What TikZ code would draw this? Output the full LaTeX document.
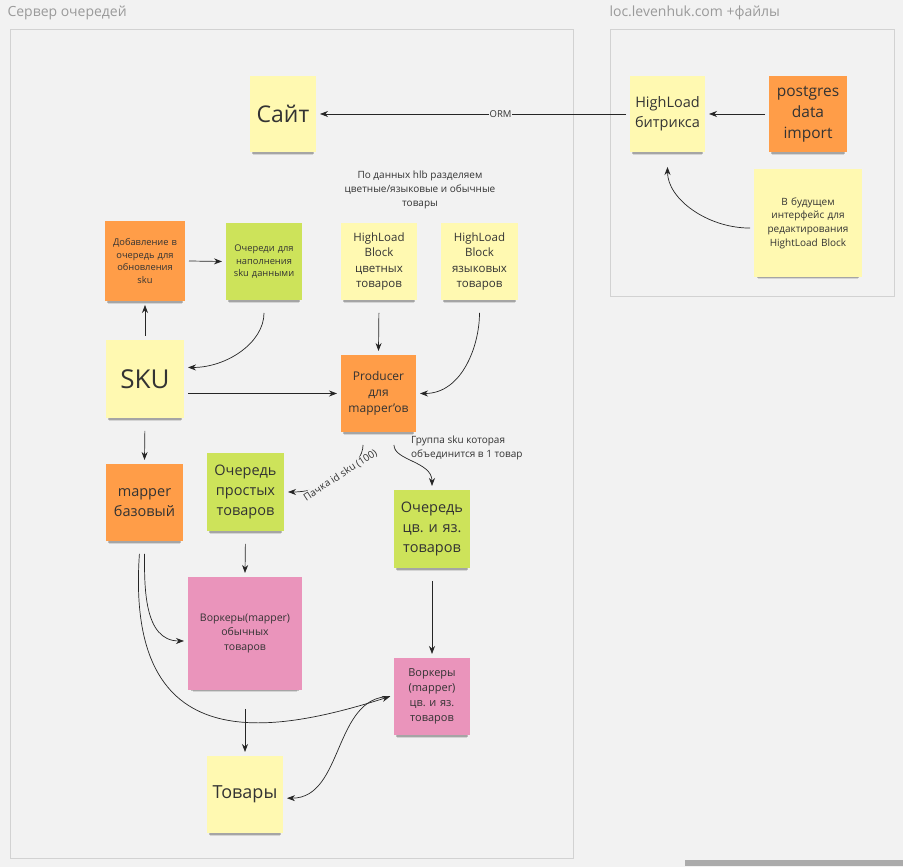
\documentclass[tikz,border=0pt]{standalone}
\usepackage{fontspec}
\setmainfont{Open Sans}
\usepackage{tikz}
\usetikzlibrary{arrows.meta,positioning,shadows,calc}
\definecolor{cbg}{HTML}{F2F2F2}
\definecolor{cframe}{HTML}{D2D2D2}
\definecolor{ctitle}{HTML}{9A9A9A}
\definecolor{cyel}{HTML}{FFF9B1}
\definecolor{corg}{HTML}{FF9D48}
\definecolor{cgrn}{HTML}{CDE35A}
\definecolor{cpnk}{HTML}{EA94BB}
\definecolor{ctext}{HTML}{333333}
\definecolor{cbar}{HTML}{ABABAB}
\newcommand{\fsz}[1]{\fontsize{#1}{\dimexpr #1pt*136/100\relax}\selectfont}
\frenchspacing
\tikzset{
  note/.style={rectangle, inner sep=2pt, outer sep=4pt, align=center, text=ctext,
    drop shadow={shadow xshift=0pt, shadow yshift=-7pt, shadow scale=0.92, opacity=0.12, fill=black},
    drop shadow={shadow xshift=0pt, shadow yshift=-4pt, shadow scale=0.95, opacity=0.22, fill=black}},
  yel/.style={note, fill=cyel},
  org/.style={note, fill=corg},
  grn/.style={note, fill=cgrn},
  pnk/.style={note, fill=cpnk},
  frame/.style={draw=cframe, fill=cbg, line width=0.8pt,
    drop shadow={shadow xshift=1pt, shadow yshift=-1pt, opacity=0.12, fill=black}},
  title/.style={anchor=west, text=ctitle, font=\fsz{14}},
  lbl/.style={font=\fsz{10}, text=ctext, inner sep=1pt},
  conn/.style={-{Stealth[length=8pt,width=6pt]}, line width=0.7pt, draw=black!85},
  fromshadow/.style={shorten <=9pt},
}
\begin{document}
\begin{tikzpicture}[x=1pt,y=1pt]
\fill[cbg] (0,0) rectangle (903,867);
\useasboundingbox (0,0) rectangle (903,867);
% frames
\draw[frame] (10,9) rectangle (573,838);
\draw[frame] (610,571) rectangle (894,838);
\node[title] (tqueue) at (4,854) {Сервер очередей};
\node[title] (tloc) at (606,854) {loc.levenhuk.com +файлы};
\fill[cbar] (685,1) rectangle (903,7);

% site side
\node[yel, minimum width=66, minimum height=76, font=\fsz{23}] (site) at (283,753) {Сайт};
\node[yel, minimum width=75, minimum height=76, text width=70, font=\fsz{14.5}] (hlb) at (667.5,753) {HighLoad\\битрикса};
\node[org, minimum width=78, minimum height=76, text width=74, font=\fsz{15.5}] (pg) at (808,753) {postgres\\data\\import};
\node[yel, minimum width=108, minimum height=108, text width=100, font=\fsz{10}] (future) at (808,644) {В будущем\\интерфейс для\\редактирования\\HightLoad Block};

% sku part
\node[org, minimum width=80, minimum height=80, text width=76, font=\fsz{9.3}] (addq) at (145,606) {Добавление в\\очередь для\\обновления\\sku};
\node[grn, minimum width=76, minimum height=77, text width=72, font=\fsz{9.3}] (fillq) at (264,605.5) {Очереди для\\наполнения\\sku данными};
\node[yel, minimum width=76, minimum height=77, text width=72, font=\fsz{11.5}] (hlcol) at (379,605.5) {HighLoad\\Block\\цветных\\товаров};
\node[yel, minimum width=77, minimum height=77, text width=73, font=\fsz{11.5}] (hllang) at (479.5,605.5) {HighLoad\\Block\\языковых\\товаров};
\node[yel, minimum width=78, minimum height=78, font=\fsz{26}] (sku) at (145,488) {SKU};
\node[org, minimum width=75, minimum height=77, text width=71, font=\fsz{12}] (prod) at (378.5,473.5) {Producer\\для\\mapper'ов};
\node[lbl, align=center] (hlbnote) at (420,677) {По данных hlb разделяем\\цветные/языковые и обычные\\товары};

% mappers
\node[org, minimum width=77, minimum height=77, text width=73, font=\fsz{14.5}] (mbase) at (144.5,364.5) {mapper\\базовый};
\node[grn, minimum width=77, minimum height=78, text width=73, font=\fsz{14.5}] (qsimple) at (245.5,375) {Очередь\\простых\\товаров};
\node[grn, minimum width=76, minimum height=78, text width=72, font=\fsz{14.5}] (qcol) at (432,338) {Очередь\\цв. и яз.\\товаров};
\node[pnk, minimum width=114, minimum height=113, text width=110, font=\fsz{10.5}] (wsimple) at (245,233.5) {Воркеры(mapper)\\обычных\\товаров};
\node[pnk, minimum width=76, minimum height=77, text width=72, font=\fsz{11}] (wcol) at (432,170.5) {Воркеры\\(mapper)\\цв. и яз.\\товаров};
\node[yel, minimum width=76, minimum height=77, font=\fsz{18}] (goods) at (245,72.5) {Товары};
\node[lbl, anchor=west, align=left] (grp) at (410,419) {Группа sku которая\\объединится в 1 товар};

% connectors
\draw[conn] (hlb.west) -- node[lbl, pos=0.41, fill=cbg, font=\fsz{9.5}] {ORM} (site.east);
\draw[conn] (pg.west) -- (hlb.east);
\draw[conn, shorten >=11pt] (future.185) to[out=180, in=-90] (hlb.south);
\draw[conn] (addq.east) -- (fillq.west);
\draw[conn, fromshadow] (fillq.south) to[out=-90, in=0] (sku.15);
\draw[conn] (sku.north) -- (addq.south);
\draw[conn] (prod.west -| sku.east) -- (prod.west);
\draw[conn, fromshadow] (hlcol.south) -- (prod.north);
\draw[conn, fromshadow] (hllang.south) to[out=-90, in=0] (prod.east);
\draw[conn, fromshadow] (sku.south) -- (mbase.north);
\draw[conn, fromshadow] (prod.250) .. controls +(0,-30) and +(40,0) ..
  node[lbl, rotate=33, pos=0.5, fill=cbg, inner sep=0.5pt] {Пачка id sku (100)} (qsimple.east);
\draw[conn, fromshadow] (prod.290) to[out=-90, in=90] (qcol.north);
\draw[conn, fromshadow] (qsimple.south) -- (wsimple.north);
\draw[conn, fromshadow] (qcol.south) -- (wcol.north);
\draw[conn, fromshadow] (mbase.south) to[out=-90, in=180] (wsimple.187);
\draw[conn, fromshadow] (mbase.264) .. controls +(-15,-215) and +(-120,-38) .. (wcol.west);
\draw[conn, shorten <=15pt] (wsimple.south) -- (goods.north);
\draw[conn] (wcol.west) to[out=180, in=0] (goods.-5);
\end{tikzpicture}
\end{document}
